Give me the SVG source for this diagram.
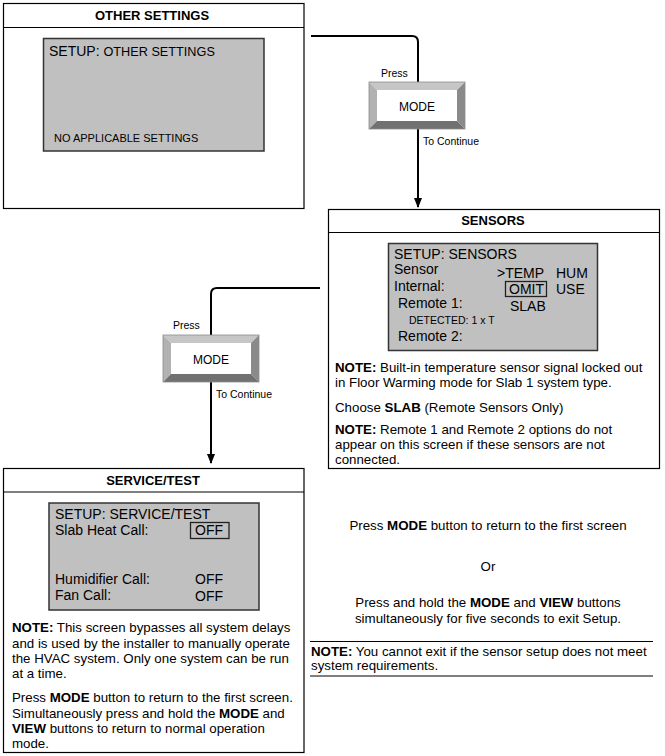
<svg xmlns="http://www.w3.org/2000/svg" width="665" height="756" viewBox="0 0 665 756">
<defs>
<style>
text{font-family:"Liberation Sans",Arial,sans-serif;fill:#000}
.frame{fill:#fff;stroke:#000;stroke-width:1.2}
.hdr{stroke:#000;stroke-width:1.2}
.title{font-size:13px;font-weight:bold;text-anchor:middle}
.screen{fill:#c0c0c0;stroke:#333;stroke-width:1.5}
.scr{font-size:14px}
.note{font-size:13.3px}
.small{font-size:10.5px}
.conn{fill:none;stroke:#000;stroke-width:2}
.sel{fill:none;stroke:#222;stroke-width:1.3}
.b{font-weight:bold}
.ctr{text-anchor:middle}
</style>
<marker id="arr" markerUnits="userSpaceOnUse" markerWidth="10" markerHeight="10" viewBox="0 0 10 10" refX="9" refY="5" orient="auto">
<path d="M0,1 L10,5 L0,9 Z" fill="#000"/>
</marker>
<g id="btn">
<polygon points="0,0 96,0 88,8 8,8" fill="#c6c6c6"/>
<polygon points="0,0 8,8 8,39 0,47" fill="#b2b2b2"/>
<polygon points="96,0 96,47 88,39 88,8" fill="#8a8a8a"/>
<polygon points="0,47 96,47 88,39 8,39" fill="#717171"/>
<rect x="8" y="8" width="80" height="31" fill="#fff"/>
<rect x="0" y="0" width="96" height="47" fill="none" stroke="#8c8c8c" stroke-width="0.8"/>
</g>
</defs>
<rect width="665" height="756" fill="#fff"/>

<g id="connectors">
<path class="conn" d="M311,36 H412 Q418,36 418,42 V207" marker-end="url(#arr)"/>
<path class="conn" d="M320,288 H217 Q211,288 211,294 V463" marker-end="url(#arr)"/>
</g>

<g id="other-settings">
<rect class="frame" x="3.5" y="3.5" width="300.5" height="205"/>
<line class="hdr" x1="3.5" y1="27.5" x2="304" y2="27.5"/>
<text class="title" x="152" y="20">OTHER SETTINGS</text>
<rect class="screen" x="43.5" y="38.5" width="220.5" height="112.5"/>
<text x="49" y="56"><tspan font-size="14">SETUP: </tspan><tspan font-size="12.7">OTHER SETTINGS</tspan></text>
<text x="54" y="142" font-size="11">NO APPLICABLE SETTINGS</text>
</g>

<g id="mode-button-1">
<use href="#btn" x="369" y="82"/>
<text class="small" x="381" y="77">Press</text>
<text class="ctr" x="417" y="111" font-size="12">MODE</text>
<text class="small" x="423" y="145">To Continue</text>
</g>

<g id="sensors">
<rect class="frame" x="328.5" y="209.5" width="331" height="259"/>
<line class="hdr" x1="328.5" y1="232.5" x2="659.5" y2="232.5"/>
<text class="title" x="493" y="225">SENSORS</text>
<rect class="screen" x="388.5" y="243.5" width="209" height="107"/>
<text class="scr" x="394" y="259">SETUP: SENSORS</text>
<text class="scr" x="394" y="274">Sensor</text>
<text class="scr" x="497" y="278">&gt;TEMP</text>
<text class="scr" x="556" y="278">HUM</text>
<text class="scr" x="394" y="291">Internal:</text>
<rect class="sel" x="505.5" y="281.5" width="41" height="15"/>
<text class="scr" x="509" y="294">OMIT</text>
<text class="scr" x="556" y="294">USE</text>
<text class="scr" x="398" y="308">Remote 1:</text>
<text class="scr" x="510" y="311">SLAB</text>
<text class="small" x="409" y="324">DETECTED: 1 x T</text>
<text class="scr" x="398" y="341">Remote 2:</text>
<text class="note" x="335" y="372"><tspan class="b">NOTE:</tspan> Built-in temperature sensor signal locked out</text>
<text class="note" x="335" y="387">in Floor Warming mode for Slab 1 system type.</text>
<text class="note" x="335" y="412">Choose <tspan class="b">SLAB</tspan> (Remote Sensors Only)</text>
<text class="note" x="335" y="434"><tspan class="b">NOTE:</tspan> Remote 1 and Remote 2 options do not</text>
<text class="note" x="335" y="449">appear on this screen if these sensors are not</text>
<text class="note" x="335" y="464">connected.</text>
</g>

<g id="mode-button-2">
<use href="#btn" x="163" y="335"/>
<text class="small" x="173" y="329">Press</text>
<text class="ctr" x="211" y="364" font-size="12">MODE</text>
<text class="small" x="216" y="398">To Continue</text>
</g>

<g id="service-test">
<rect class="frame" x="3.5" y="468.5" width="300.5" height="284"/>
<line class="hdr" x1="3.5" y1="492" x2="304" y2="492"/>
<text class="title" x="153" y="485">SERVICE/TEST</text>
<rect class="screen" x="49" y="503" width="210" height="107"/>
<text class="scr" x="55" y="519">SETUP: SERVICE/TEST</text>
<text class="scr" x="55" y="535">Slab Heat Call:</text>
<rect class="sel" x="190.5" y="522.5" width="38.5" height="16"/>
<text class="scr" x="195" y="535">OFF</text>
<text class="scr" x="55" y="584">Humidifier Call:</text>
<text class="scr" x="195" y="584">OFF</text>
<text class="scr" x="55" y="600">Fan Call:</text>
<text class="scr" x="195" y="601">OFF</text>
<text class="note" x="12" y="632"><tspan class="b">NOTE:</tspan> This screen bypasses all system delays</text>
<text class="note" x="12" y="648">and is used by the installer to manually operate</text>
<text class="note" x="12" y="663">the HVAC system. Only one system can be run</text>
<text class="note" x="12" y="678">at a time.</text>
<text class="note" x="12" y="702">Press <tspan class="b">MODE</tspan> button to return to the first screen.</text>
<text class="note" x="12" y="718">Simultaneously press and hold the <tspan class="b">MODE</tspan> and</text>
<text class="note" x="12" y="733"><tspan class="b">VIEW</tspan> buttons to return to normal operation</text>
<text class="note" x="12" y="748">mode.</text>
</g>

<g id="exit-info">
<text class="note ctr" x="488" y="530">Press <tspan class="b">MODE</tspan> button to return to the first screen</text>
<text class="note ctr" x="488" y="571">Or</text>
<text class="note ctr" x="488" y="607">Press and hold the <tspan class="b">MODE</tspan> and <tspan class="b">VIEW</tspan> buttons</text>
<text class="note ctr" x="488" y="623">simultaneously for five seconds to exit Setup.</text>
<line x1="310" y1="641.5" x2="653" y2="641.5" stroke="#000" stroke-width="1.2"/>
<text class="note" x="311" y="656"><tspan class="b">NOTE:</tspan> You cannot exit if the sensor setup does not meet</text>
<text class="note" x="311" y="670">system requirements.</text>
<line x1="310" y1="676" x2="653" y2="676" stroke="#000" stroke-width="1.2"/>
</g>
</svg>
